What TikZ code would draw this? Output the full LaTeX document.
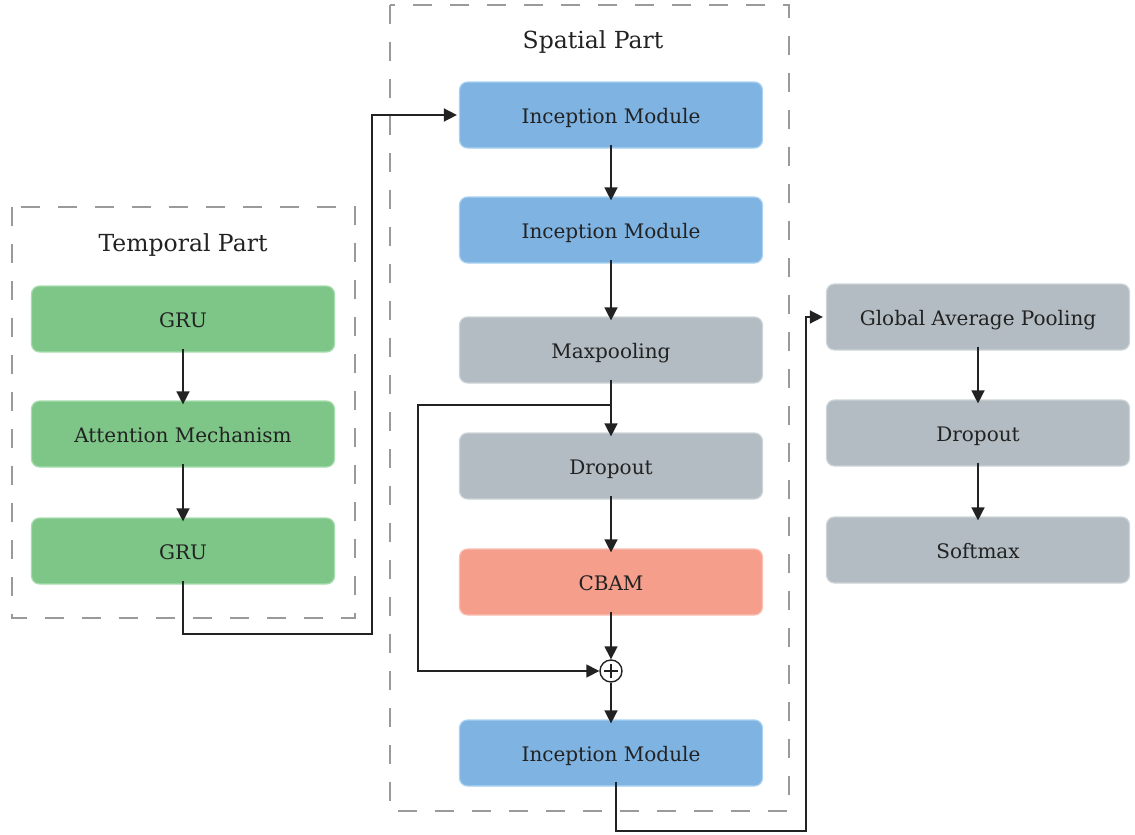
\documentclass[tikz,border=0pt]{standalone}
\usepackage{fontspec}
\setmainfont{DejaVu Serif}
\usetikzlibrary{arrows.meta}
\definecolor{bluefill}{HTML}{7FB3E1}
\definecolor{blueedge}{HTML}{A9D2F2}
\definecolor{greenfill}{HTML}{7EC687}
\definecolor{greenedge}{HTML}{A6DDAE}
\definecolor{grayfill}{HTML}{B2BCC2}
\definecolor{grayedge}{HTML}{CDD4D8}
\definecolor{redfill}{HTML}{F59E8C}
\definecolor{rededge}{HTML}{F9BFB2}
\definecolor{dashgray}{HTML}{9A9A9A}
\definecolor{ink}{HTML}{222222}
\begin{document}
\begin{tikzpicture}[x=1pt,y=-1pt,
  box/.style={rounded corners=8pt, minimum width=303pt, minimum height=66pt, line width=1.2pt, text=ink, font=\fontsize{20}{24}\selectfont, inner sep=0pt, text height=16pt, text depth=0pt},
  bluebox/.style={box, fill=bluefill, draw=blueedge},
  greenbox/.style={box, fill=greenfill, draw=greenedge},
  graybox/.style={box, fill=grayfill, draw=grayedge},
  redbox/.style={box, fill=redfill, draw=rededge},
  group/.style={draw=dashgray, line width=1.5pt, dash pattern=on 19pt off 18pt},
  title/.style={text=ink, font=\fontsize{23.5}{28}\selectfont},
  conn/.style={draw=ink, line width=1.5pt, -{Triangle[length=13pt,width=13pt]}},
  line/.style={draw=ink, line width=1.5pt}
]
\useasboundingbox (0,0) rectangle (1135,835);

% groups
\draw[group] (12,207) rectangle (355,618);
\draw[group] (390,5) rectangle (789,811);
\node[title] (tt) at (183,245) {Temporal Part};
\node[title] (st) at (593,42) {Spatial Part};

% temporal
\node[greenbox] (g1) at (183,319) {GRU};
\node[greenbox] (att) at (183,434) {Attention Mechanism};
\node[greenbox] (g2) at (183,551) {GRU};

% spatial
\node[bluebox] (i1) at (611,115) {Inception Module};
\node[bluebox] (i2) at (611,230) {Inception Module};
\node[graybox] (mp) at (611,350) {Maxpooling};
\node[graybox] (do) at (611,466) {Dropout};
\node[redbox] (cb) at (611,582) {CBAM};
\node[circle, draw=ink, line width=1.4pt, minimum size=22pt, inner sep=0pt] (plus) at (611,671) {};
\draw[ink, line width=1.4pt] ([xshift=-7pt]plus.center) -- ([xshift=7pt]plus.center)
  ([yshift=-7pt]plus.center) -- ([yshift=7pt]plus.center);
\node[bluebox] (i3) at (611,753) {Inception Module};

% right
\node[graybox] (gap) at (978,317) {Global Average Pooling};
\node[graybox] (do2) at (978,433) {Dropout};
\node[graybox] (sm) at (978,550) {Softmax};

% temporal arrows
\draw[conn] ([yshift=4pt]g1.south) -- ([yshift=-4pt]att.north);
\draw[conn] ([yshift=4pt]att.south) -- ([yshift=-4pt]g2.north);
\draw[conn] ([yshift=4pt]g2.south) -- (183,634) -- (372,634) -- (372,115) -- ([xshift=-2pt]i1.west);

% spatial arrows
\draw[conn] ([yshift=4pt]i1.south) -- ([yshift=-4pt]i2.north);
\draw[conn] ([yshift=4pt]i2.south) -- ([yshift=-4pt]mp.north);
\draw[conn] ([yshift=4pt]mp.south) -- ([yshift=-4pt]do.north);
\coordinate (br) at (611,405);
\draw[conn] (br) -- (418,405) -- (418,671) -- (plus.west);
\draw[conn] ([yshift=4pt]do.south) -- ([yshift=-4pt]cb.north);
\draw[conn] ([yshift=4pt]cb.south) -- (plus.north);
\draw[conn] (plus.south) -- ([yshift=-4pt]i3.north);
\draw[conn] ([xshift=5pt,yshift=5pt]i3.south) -- (616,831) -- (806,831) -- (806,317) -- ([xshift=-3pt]gap.west);

% right arrows
\draw[conn] ([yshift=4pt]gap.south) -- ([yshift=-4pt]do2.north);
\draw[conn] ([yshift=4pt]do2.south) -- ([yshift=-4pt]sm.north);
\end{tikzpicture}
\end{document}
